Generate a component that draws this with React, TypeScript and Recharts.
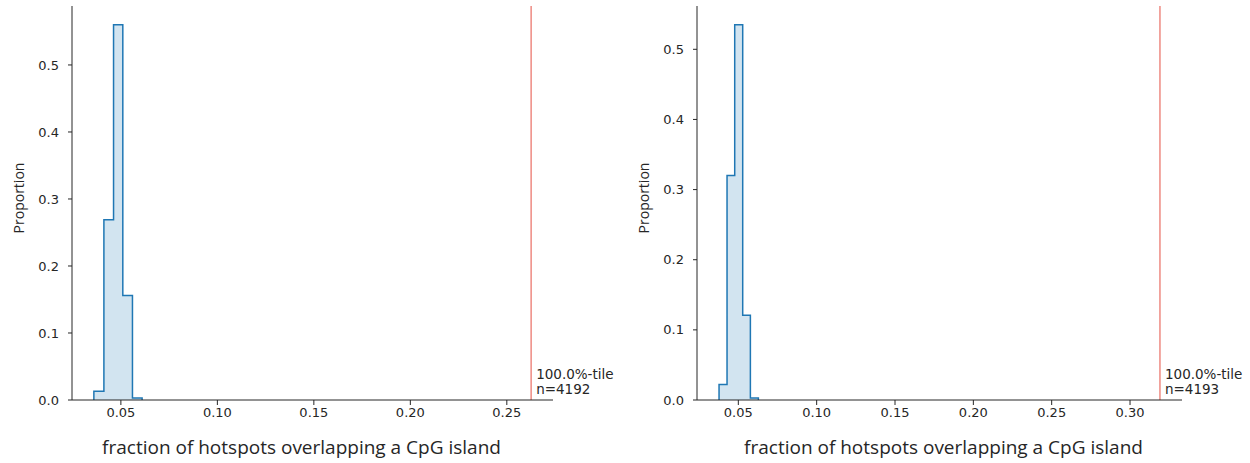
import { ComposedChart, Area, XAxis, YAxis, ReferenceLine } from 'recharts';

// left panel
const leftEdges = [0.0360, 0.0412, 0.0462, 0.0510, 0.0560, 0.0610];
const leftHeights = [0.013, 0.269, 0.560, 0.156, 0.003];
const leftMax = 0.2626;
const leftN = 4192;
const leftTicks = [0.05, 0.10, 0.15, 0.20, 0.25];

// right panel
const rightEdges = [0.0377, 0.0428, 0.0477, 0.0528, 0.0577, 0.0628];
const rightHeights = [0.022, 0.320, 0.535, 0.121, 0.003];
const rightMax = 0.3191;
const rightN = 4193;
const rightTicks = [0.05, 0.10, 0.15, 0.20, 0.25, 0.30];

const yTicks = [0, 0.1, 0.2, 0.3, 0.4, 0.5];
const percentileLabel = '100.0%-tile';
const xTitle = 'fraction of hotspots overlapping a CpG island';
const yTitle = 'Proportion';

const INK = '#262626';
const BLUE = '#1f77b4';
const RED = '#ee8a82';
const TICK_FONT = '"DejaVu Sans", sans-serif';
const TITLE_FONT = '"Open Sans", "Noto Sans", sans-serif';

// outline of a step histogram: up at the first edge, down at the last one
const stepPoints = (edges: number[], heights: number[]) => {
  const pts = [{ x: edges[0], y: 0 }];
  heights.forEach((h, i) => pts.push({ x: edges[i], y: h }));
  pts.push({ x: edges[edges.length - 1], y: 0 });
  return pts;
};

interface PanelProps {
  edges: number[];
  heights: number[];
  maxVal: number;
  n: number;
  ticks: number[];
  width: number;
  rightMargin: number;
  titleShift: number;
}

const Panel: React.FC<PanelProps> = ({ edges, heights, maxVal, n, ticks, width, rightMargin, titleShift }) => {
  const data = stepPoints(edges, heights);
  const lo = Math.min(...edges);
  const span = maxVal - lo;
  const top = Math.max(...heights) * 1.05;
  const tickStyle = { fontSize: 13, fill: INK, fontFamily: TICK_FONT };

  return (
    <ComposedChart width={width} height={463} data={data}
      margin={{ top: 6, right: rightMargin, bottom: 0, left: 0 }}>
      <XAxis dataKey="x" type="number"
        domain={[lo - span * 0.05, maxVal + span * 0.05]}
        ticks={ticks} tickFormatter={(v: number) => v.toFixed(2)}
        allowDataOverflow height={63}
        stroke={INK} tickSize={5} tickMargin={3} tick={tickStyle}
        label={(p: any) => (
          <text x={p.viewBox.x + p.viewBox.width / 2 + titleShift} y={454}
            textAnchor="middle" fontSize={19} fill={INK} fontFamily={TITLE_FONT}>
            {xTitle}
          </text>
        )} />
      <YAxis type="number" domain={[0, top]} ticks={yTicks}
        tickFormatter={(v: number) => v.toFixed(1)}
        allowDataOverflow width={72}
        stroke={INK} tickSize={4} tickMargin={9} tick={tickStyle}
        label={() => (
          <text x={18} y={198} transform="rotate(-90, 18, 198)"
            textAnchor="middle" dominantBaseline="central"
            fontSize={14} fill={INK} fontFamily={TITLE_FONT}>
            {yTitle}
          </text>
        )} />
      <Area dataKey="y" type="stepAfter" stroke={BLUE} strokeWidth={1.5}
        fill={BLUE} fillOpacity={0.2} isAnimationActive={false} />
      <ReferenceLine x={maxVal} stroke={RED} strokeWidth={1.5}
        label={(p: any) => (
          <text x={p.viewBox.x + 5} y={p.viewBox.y + p.viewBox.height - 21}
            fontSize={13.5} fill={INK} fontFamily={TICK_FONT}>
            <tspan x={p.viewBox.x + 5}>{percentileLabel}</tspan>
            <tspan x={p.viewBox.x + 5} dy={15}>{`n=${n}`}</tspan>
          </text>
        )} />
    </ComposedChart>
  );
};

export default function App() {
  return (
    <div style={{ position: 'absolute', left: 0, top: 0, width: 1250, height: 463, background: '#fff' }}>
      <div style={{ position: 'absolute', left: 0, top: 0 }}>
        <Panel edges={leftEdges} heights={leftHeights} maxVal={leftMax} n={leftN}
          ticks={leftTicks} width={620} rightMargin={67} titleShift={-11} />
      </div>
      <div style={{ position: 'absolute', left: 625, top: 0 }}>
        <Panel edges={rightEdges} heights={rightHeights} maxVal={rightMax} n={rightN}
          ticks={rightTicks} width={625} rightMargin={68} titleShift={4} />
      </div>
    </div>
  );
}
